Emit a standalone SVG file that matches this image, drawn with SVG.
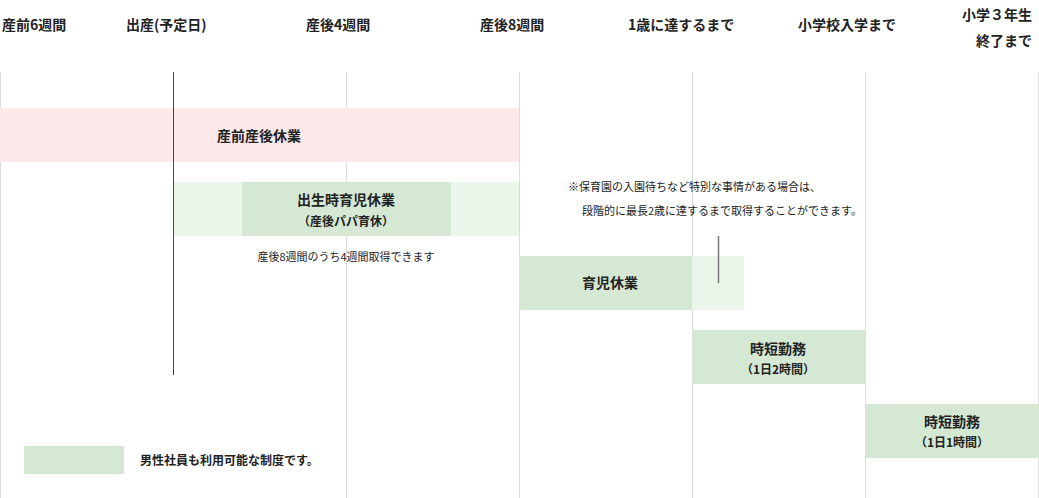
<svg xmlns="http://www.w3.org/2000/svg" width="1039" height="498" viewBox="0 0 1039 498">
<style>
text{font-family:"Noto Sans CJK JP","Noto Sans",sans-serif;fill:#222}
.h{font-size:14px;font-weight:bold}
.b{font-size:14px;font-weight:bold}
.s{font-size:12px;font-weight:bold}
.n{font-size:11px}
.g{stroke:#ddd;stroke-width:1}
.dk{fill:#d5e8d4}.lt{fill:#ebf6ea}
</style>
<rect width="1039" height="498" fill="#fff"/>
<g id="headers" class="h">
<text x="2" y="30">産前6週間</text>
<text x="126" y="30">出産(予定日)</text>
<text x="306" y="30">産後4週間</text>
<text x="480" y="30">産後8週間</text>
<text x="628" y="30">1歳に達するまで</text>
<text x="798" y="30">小学校入学まで</text>
<text x="1032" y="20" text-anchor="end">小学３年生</text>
<text x="1032" y="46" text-anchor="end">終了まで</text>
</g>
<g id="grid">
<line class="g" x1="0.5" y1="72" x2="0.5" y2="498"/>
<line class="g" x1="346.5" y1="72" x2="346.5" y2="498"/>
<line class="g" x1="519.5" y1="72" x2="519.5" y2="498"/>
<line class="g" x1="692.5" y1="72" x2="692.5" y2="498"/>
<line class="g" x1="865.5" y1="72" x2="865.5" y2="498"/>
<line class="g" x1="1038.5" y1="72" x2="1038.5" y2="498"/>
</g>
<g id="prenatal"><rect x="0" y="108" width="519" height="54" fill="#fde8ea"/><text class="b" x="259" y="141" text-anchor="middle">産前産後休業</text></g>
<g id="papa"><rect class="lt" x="173" y="182" width="346" height="54"/><rect class="dk" x="242" y="182" width="209" height="54"/>
<text class="b" x="346" y="205" text-anchor="middle">出生時育児休業</text><text class="s" x="346" y="226" text-anchor="middle">（産後パパ育休）</text>
<text class="n" x="346" y="261" text-anchor="middle">産後8週間のうち4週間取得できます</text></g>
<g id="note"><text class="n" x="568" y="191">※保育園の入園待ちなど特別な事情がある場合は、</text><text class="n" x="582" y="215">段階的に最長2歳に達するまで取得することができます。</text></g>
<g id="ikuji"><rect class="lt" x="519" y="256" width="225" height="54"/><rect class="dk" x="519" y="256" width="173" height="54"/><text class="b" x="610" y="288" text-anchor="middle">育児休業</text></g>
<g id="jitan1"><rect class="dk" x="692" y="330" width="173" height="54"/><text class="b" x="778" y="354" text-anchor="middle">時短勤務</text><text class="s" x="778" y="374" text-anchor="middle">（1日2時間）</text></g>
<g id="jitan2"><rect class="dk" x="865" y="404" width="174" height="54"/><text class="b" x="952" y="427" text-anchor="middle">時短勤務</text><text class="s" x="952" y="447" text-anchor="middle">（1日1時間）</text></g>
<g id="legend"><rect class="dk" x="24" y="446" width="100" height="28"/><text class="s" x="140" y="465">男性社員も利用可能な制度です。</text></g>
<g id="connectors">
<line x1="173.5" y1="72" x2="173.5" y2="375" stroke="#e00" stroke-width="1"/>
<line x1="718.5" y1="236" x2="718.5" y2="283" stroke="#777" stroke-width="1.5"/>
</g>
</svg>
